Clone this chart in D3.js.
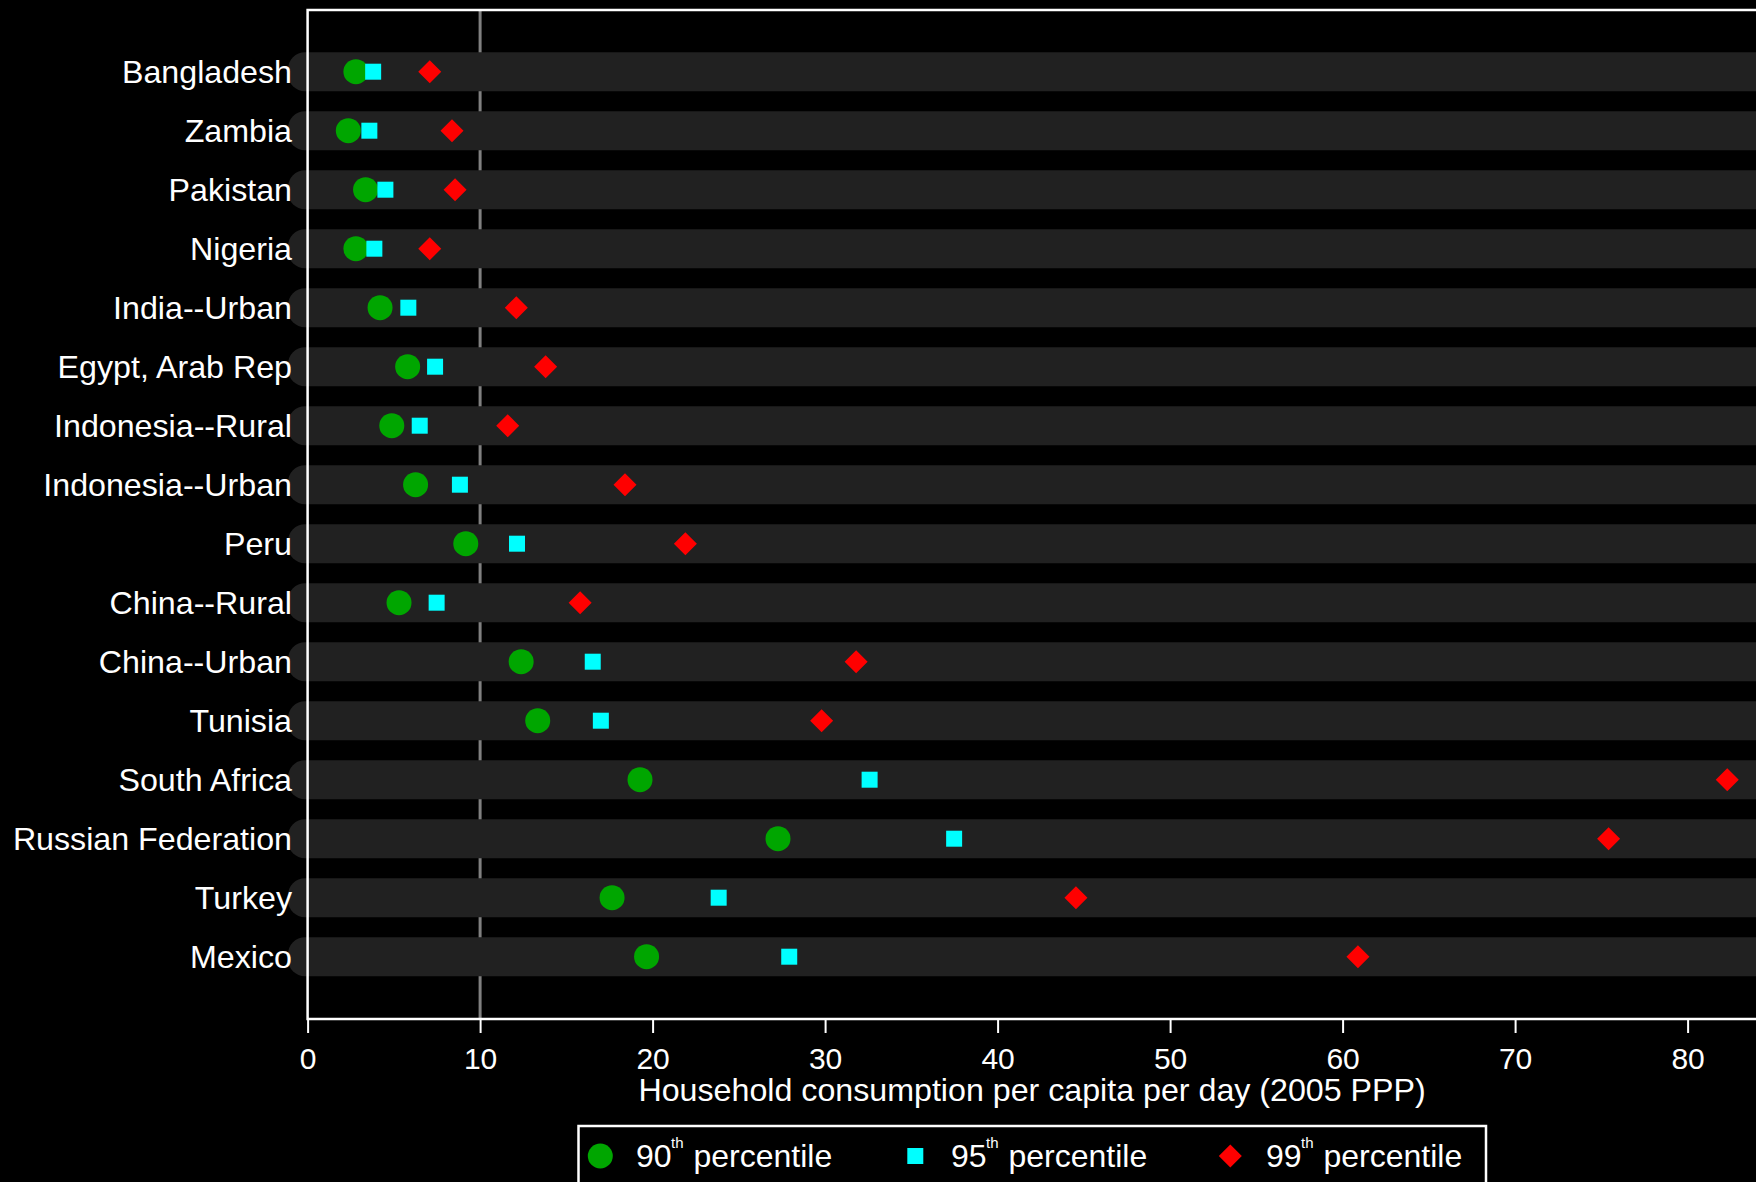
<!DOCTYPE html>
<html>
<head>
<meta charset="utf-8">
<script src="https://cdn.jsdelivr.net/npm/d3@7"></script>
<style>
html,body{margin:0;padding:0;background:#000;}
svg{display:block;}
text{font-family:"Liberation Sans",Arial,Helvetica,sans-serif;fill:#fff;}
</style>
</head>
<body>
<svg id="chart" width="1756" height="1182"></svg>
<script>
const categories = ["Bangladesh","Zambia","Pakistan","Nigeria","India--Urban","Egypt, Arab Rep","Indonesia--Rural","Indonesia--Urban","Peru","China--Rural","China--Urban","Tunisia","South Africa","Russian Federation","Turkey","Mexico"];
const p90 = [2.8, 2.36, 3.36, 2.8, 4.2, 5.8, 4.88, 6.26, 9.17, 5.3, 12.38, 13.34, 19.27, 27.27, 17.65, 19.65];
const p95 = [3.8, 3.58, 4.51, 3.87, 5.84, 7.39, 6.5, 8.83, 12.14, 7.48, 16.53, 17.0, 32.58, 37.48, 23.83, 27.92];
const p99 = [7.08, 8.37, 8.55, 7.08, 12.1, 13.8, 11.6, 18.4, 21.9, 15.8, 31.8, 29.8, 82.3, 75.42, 44.54, 60.89];
const xTicks = [0,10,20,30,40,50,60,70,80];
const refLine = 10;
const xTitle = "Household consumption per capita per day (2005 PPP)";
const legendItems = [{num:"90", sup:"th", label:"percentile", key:"p90"},
                     {num:"95", sup:"th", label:"percentile", key:"p95"},
                     {num:"99", sup:"th", label:"percentile", key:"p99"}];

(function(){
const svg = d3.select("#chart");
svg.append("rect").attr("width",1756).attr("height",1182).attr("fill","#000");

const x0 = 307.6, pxPerUnit = 17.25;
const x = d3.scaleLinear().domain([0, 84]).range([x0, x0 + 84*pxPerUnit]);
const y = d3.scalePoint().domain(categories).range([71.7, 956.7]);
const yTop = 10, yBottom = 1019;

const colors = {p90:"#00a600", p95:"#00ffff", p99:"#ff0000"};
function diamondPath(r){ return `M0,${-r}L${r},0L0,${r}L${-r},0Z`; }
const shapes = {
  p90: d3.symbol().type(d3.symbolCircle).size(Math.PI*12.5*12.5)(),
  p95: d3.symbol().type(d3.symbolSquare).size(16*16)(),
  p99: diamondPath(11.5)
};

// reference line at 10
svg.append("line")
  .attr("x1", x(refLine)).attr("x2", x(refLine))
  .attr("y1", yTop).attr("y2", yBottom)
  .attr("stroke","#808080").attr("stroke-width",3);

// bands
svg.append("g").selectAll("rect").data(categories).join("rect")
  .attr("x", 288).attr("y", d => y(d) - 19.5)
  .attr("width", 1600).attr("height", 39)
  .attr("rx", 17).attr("ry", 17)
  .attr("fill", "#212121");

// frame
svg.append("path")
  .attr("d", `M1760,${yTop}H${x0}V${yBottom}H1760`)
  .attr("fill","none").attr("stroke","#fff").attr("stroke-width",2.5);

// x axis ticks
const xAxis = d3.axisBottom(x).tickValues(xTicks).tickSize(14).tickPadding(4).tickFormat(d3.format("d"));
const ax = svg.append("g").attr("transform", `translate(0,${yBottom})`).call(xAxis);
ax.select(".domain").remove();
ax.selectAll(".tick line").attr("stroke","#fff").attr("stroke-width",2);
ax.selectAll(".tick text").attr("fill","#fff").attr("font-size",30)
  .attr("font-family","Liberation Sans, Arial, sans-serif")
  .attr("dy", null).attr("y", 50);

// axis title
svg.append("text").attr("x", (x.range()[0]+x.range()[1])/2).attr("y", 1100.7)
  .attr("text-anchor","middle").attr("font-size",32.2).text(xTitle);

// category labels
svg.append("g").selectAll("text").data(categories).join("text")
  .attr("x", 292).attr("y", d => y(d) + 11.6)
  .attr("text-anchor","end").attr("font-size",32.2).text(d => d);

// markers
const series = [{key:"p90", vals:p90},{key:"p95", vals:p95},{key:"p99", vals:p99}];
series.forEach(s => {
  svg.append("g").selectAll("path").data(categories).join("path")
    .attr("transform", (d,i) => `translate(${x(s.vals[i])},${y(d)})`)
    .attr("d", shapes[s.key])
    .attr("fill", colors[s.key]);
});

// legend
svg.append("rect").attr("x",578.5).attr("y",1126).attr("width",907.5).attr("height",80)
  .attr("fill","#000").attr("stroke","#fff").attr("stroke-width",2.5);
const legStep = 315;
legendItems.forEach((it,i) => {
  const ox = i*legStep;
  svg.append("path").attr("transform", `translate(${600.3+ox},1156)`)
    .attr("d", shapes[it.key])
    .attr("fill", colors[it.key]);
  svg.append("text").attr("x", 636+ox).attr("y", 1166.7).attr("font-size",32).text(it.num);
  svg.append("text").attr("x", 671+ox).attr("y", 1148.3).attr("font-size",15).text(it.sup);
  svg.append("text").attr("x", 693.5+ox).attr("y", 1166.7).attr("font-size",32).text(it.label);
});
})();
</script>
</body>
</html>
